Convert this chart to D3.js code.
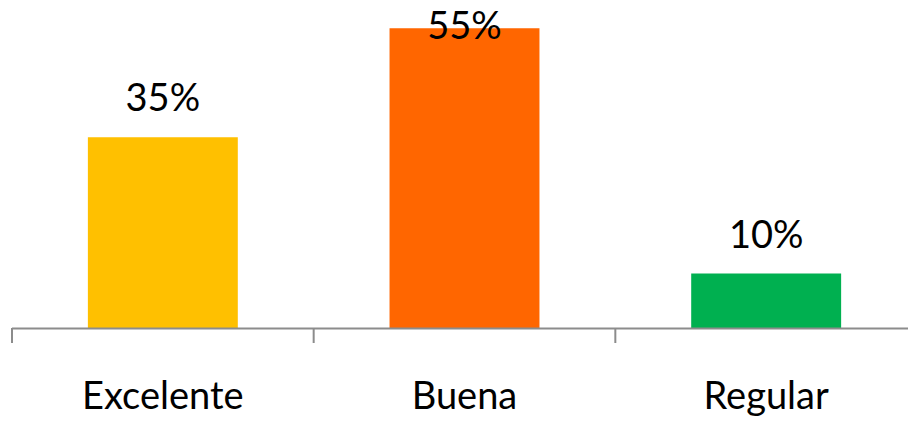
<!DOCTYPE html>
<html>
<head>
<meta charset="utf-8">
<script src="https://cdn.jsdelivr.net/npm/d3@7"></script>
<style>
  html, body { margin: 0; padding: 0; background: #fff; }
  svg { display: block; }
  text { font-family: Lato, "Open Sans", sans-serif; fill: #000; }
</style>
</head>
<body>
<svg id="chart" width="908" height="421"></svg>
<script>
const categories = ["Excelente", "Buena", "Regular"];
const values = [35, 55, 10];
const colors = ["#FFC000", "#FF6600", "#00B050"];
const valueLabels = ["35%", "55%", "10%"];

const svg = d3.select("#chart");
const W = 908, H = 421;

const x = d3.scaleBand()
  .domain(categories)
  .range([12, 917])
  .paddingInner(0.503)
  .paddingOuter(0.2515);

const y = d3.scaleLinear().domain([0, 60]).range([328, 1]);

// bars
svg.selectAll("rect.bar")
  .data(categories)
  .enter().append("rect")
  .attr("class", "bar")
  .attr("x", d => x(d))
  .attr("width", x.bandwidth())
  .attr("y", (d, i) => y(values[i]))
  .attr("height", (d, i) => y(0) - y(values[i]))
  .attr("fill", (d, i) => colors[i]);

// axis line
const step = x.step();
const half = step * x.paddingInner() / 2;
svg.append("line")
  .attr("x1", x(categories[0]) - half).attr("x2", W)
  .attr("y1", y(0) + 0.5).attr("y2", y(0) + 0.5)
  .attr("stroke", "#8c8c8c").attr("stroke-width", 2);

// tick marks at category boundaries
const tickPos = categories.map(c => x(c) - half).concat([x(categories[categories.length - 1]) + x.bandwidth() + half]);
svg.selectAll("line.tick")
  .data(tickPos)
  .enter().append("line")
  .attr("class", "tick")
  .attr("x1", d => d).attr("x2", d => d)
  .attr("y1", y(0)).attr("y2", y(0) + 15)
  .attr("stroke", "#8c8c8c").attr("stroke-width", 2);

// value labels
svg.selectAll("text.val")
  .data(categories)
  .enter().append("text")
  .attr("class", "val")
  .attr("x", d => x(d) + x.bandwidth() / 2)
  .attr("y", (d, i) => Math.max(y(values[i]) - 26, 39))
  .attr("text-anchor", "middle")
  .style("font-size", "38px")
  .text((d, i) => valueLabels[i]);

// category labels
svg.selectAll("text.cat")
  .data(categories)
  .enter().append("text")
  .attr("class", "cat")
  .attr("x", d => x(d) + x.bandwidth() / 2)
  .attr("y", 409)
  .attr("text-anchor", "middle")
  .style("font-size", "38px")
  .text(d => d);
</script>
</body>
</html>
